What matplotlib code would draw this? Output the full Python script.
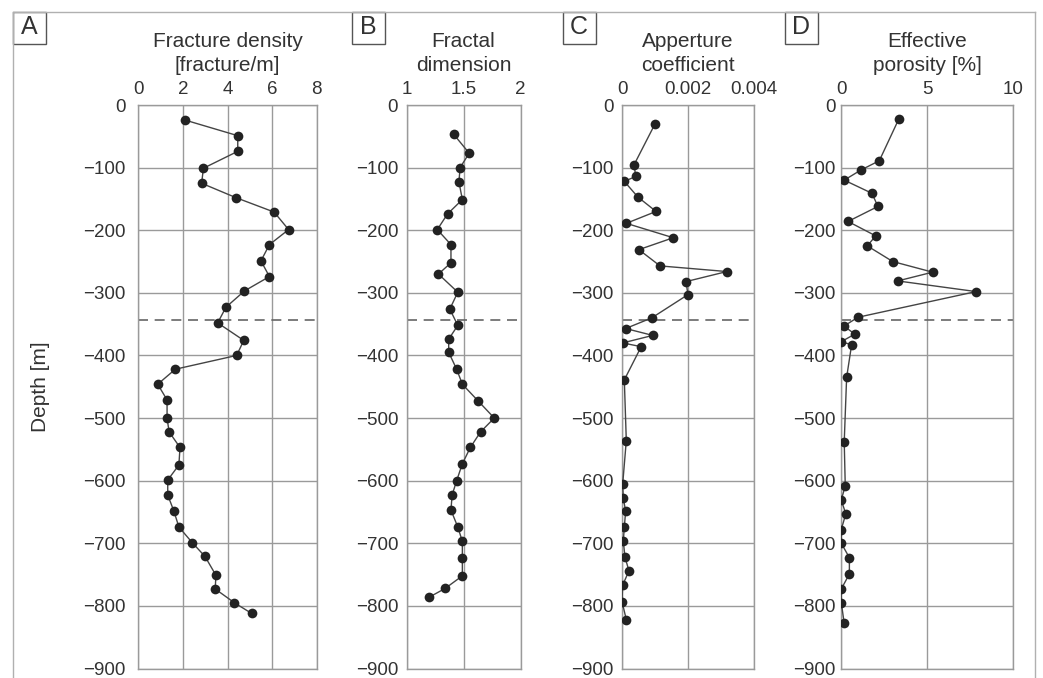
import matplotlib.pyplot as plt
from matplotlib.lines import Line2D
from matplotlib.patches import Rectangle

plt.rcParams["font.family"] = ["Liberation Sans", "DejaVu Sans"]

# data
depth_a = [-24, -49, -74, -101, -125, -148, -171, -199, -223, -249, -274, -297, -323, -348,
           -376, -400, -422, -446, -471, -500, -522, -547, -575, -599, -623, -648, -674,
           -699, -721, -751, -773, -795, -812]
fracture_density = [2.09, 4.46, 4.46, 2.92, 2.84, 4.38, 6.09, 6.74, 5.88, 5.50, 5.88, 4.76,
                    3.93, 3.56, 4.73, 4.41, 1.66, 0.87, 1.29, 1.29, 1.38, 1.87, 1.82, 1.32,
                    1.32, 1.59, 1.82, 2.42, 2.99, 3.48, 3.45, 4.31, 5.08]

depth_b = [-47, -77, -100, -123, -151, -174, -199, -223, -252, -270, -299, -326, -352, -374,
           -395, -422, -446, -473, -500, -522, -547, -573, -600, -623, -647, -674, -697,
           -723, -752, -772, -786]
fractal_dimension = [1.415, 1.55, 1.47, 1.46, 1.49, 1.36, 1.27, 1.39, 1.39, 1.28, 1.45, 1.38,
                     1.45, 1.37, 1.37, 1.44, 1.49, 1.63, 1.77, 1.65, 1.56, 1.49, 1.44, 1.40,
                     1.39, 1.45, 1.49, 1.49, 1.49, 1.34, 1.20]

depth_c = [-30, -96, -114, -122, -147, -170, -189, -212, -231, -257, -266, -282, -303, -340,
           -357, -368, -380, -386, -439, -536, -606, -628, -649, -674, -697, -722, -744,
           -767, -793, -822]
aperture_coef = [0.00100, 0.00036, 0.00042, 0.00007, 0.00048, 0.00103, 0.00013, 0.00155,
                 0.00051, 0.00115, 0.00317, 0.00194, 0.00199, 0.00090, 0.00011, 0.00093,
                 0.00002, 0.00058, 0.00007, 0.00013, 0.00002, 0.00004, 0.00011, 0.00007,
                 0.00004, 0.00009, 0.00021, 0.00002, 0.00000, 0.00013]

depth_d = [-22, -89, -104, -120, -141, -162, -186, -209, -225, -250, -267, -281, -298, -339,
           -353, -366, -378, -383, -435, -538, -608, -631, -653, -678, -700, -723, -749,
           -773, -795, -828]
effective_porosity = [3.35, 2.21, 1.13, 0.17, 1.78, 2.13, 0.39, 2.00, 1.51, 2.99, 5.31, 3.28,
                      7.83, 0.97, 0.16, 0.78, 0.00, 0.60, 0.31, 0.17, 0.23, 0.00, 0.26, 0.00,
                      0.00, 0.47, 0.47, 0.00, 0.00, 0.17]

boundary_depth = -343
depth_ticks = [0, -100, -200, -300, -400, -500, -600, -700, -800, -900]

panels = [
    ("A", "Fracture density\n[fracture/m]", fracture_density, depth_a, (0, 8), [0, 2, 4, 6, 8], ["0", "2", "4", "6", "8"]),
    ("B", "Fractal\ndimension", fractal_dimension, depth_b, (1, 2), [1, 1.5, 2], ["1", "1.5", "2"]),
    ("C", "Apperture\ncoefficient", aperture_coef, depth_c, (0, 0.004), [0, 0.002, 0.004], ["0", "0.002", "0.004"]),
    ("D", "Effective\nporosity [%]", effective_porosity, depth_d, (0, 10), [0, 5, 10], ["0", "5", "10"]),
]

# pixel layout: (axes left, axes width, ylabel pad, letter box left)
W, H = 1043, 678
layout = [(138.3, 178.4, 9, 12.7), (406.5, 114.0, 6, 351.7), (622.0, 132.3, 6, 562.7), (841.3, 172.0, 4, 785.0)]
ax_top, ax_bottom = 105, 668.5

grid_color = "#9a9a9a"
text_color = "#333333"

fig = plt.figure(figsize=(W / 100, H / 100), dpi=100)

# outer frame
frame_kw = dict(color="#b0b0b0", linewidth=1.0, transform=fig.transFigure)
fig.add_artist(Line2D([12.7 / W, 1035 / W], [1 - 11.7 / H, 1 - 11.7 / H], **frame_kw))
fig.add_artist(Line2D([12.7 / W, 12.7 / W], [1 - 11.7 / H, 0], **frame_kw))
fig.add_artist(Line2D([1035 / W, 1035 / W], [1 - 11.7 / H, 0], **frame_kw))

for (letter, title, values, depths, xlim, xticks, xlabels), (left, width, ypad, box_x) in zip(panels, layout):
    ax = fig.add_axes([left / W, 1 - ax_bottom / H, width / W, (ax_bottom - ax_top) / H])
    ax.set_xlim(*xlim)
    ax.set_ylim(-900, 0)
    ax.set_xticks(xticks)
    ax.set_xticklabels(xlabels)
    ax.set_yticks(depth_ticks)
    ax.xaxis.tick_top()
    ax.tick_params(axis="x", length=0, pad=5, labelsize=13.5, colors=text_color)
    ax.tick_params(axis="y", length=0, pad=ypad, labelsize=13.5, colors=text_color)
    ax.grid(True, color=grid_color, linewidth=1.0)
    ax.set_axisbelow(True)
    for spine in ax.spines.values():
        spine.set_color(grid_color)
        spine.set_linewidth(1.0)

    ax.axhline(boundary_depth, color="#666666", linewidth=1.2, linestyle=(0, (6, 4)))
    ax.plot(values, depths, "-", color="#444444", linewidth=1.0, zorder=3)
    ax.plot(values, depths, "o", color="#222222", markersize=7, markeredgewidth=0, zorder=4)

    # panel title
    fig.text((left + width / 2) / W, 1 - 53.5 / H, title, ha="center", va="center",
             fontsize=15, linespacing=1.3, color=text_color)

    # panel letter in a box
    fig.add_artist(Rectangle((box_x / W, 1 - 43.5 / H), 33 / W, 32 / H, transform=fig.transFigure,
                             facecolor="white", edgecolor="#555555", linewidth=1.0))
    fig.text((box_x + 16.5) / W, 1 - 27.5 / H, letter, ha="center", va="center",
             fontsize=18, color=text_color)

    if letter == "A":
        ax.set_ylabel("Depth [m]", fontsize=15, color=text_color, labelpad=24)

plt.savefig("out.png", dpi=100)
plt.close()
